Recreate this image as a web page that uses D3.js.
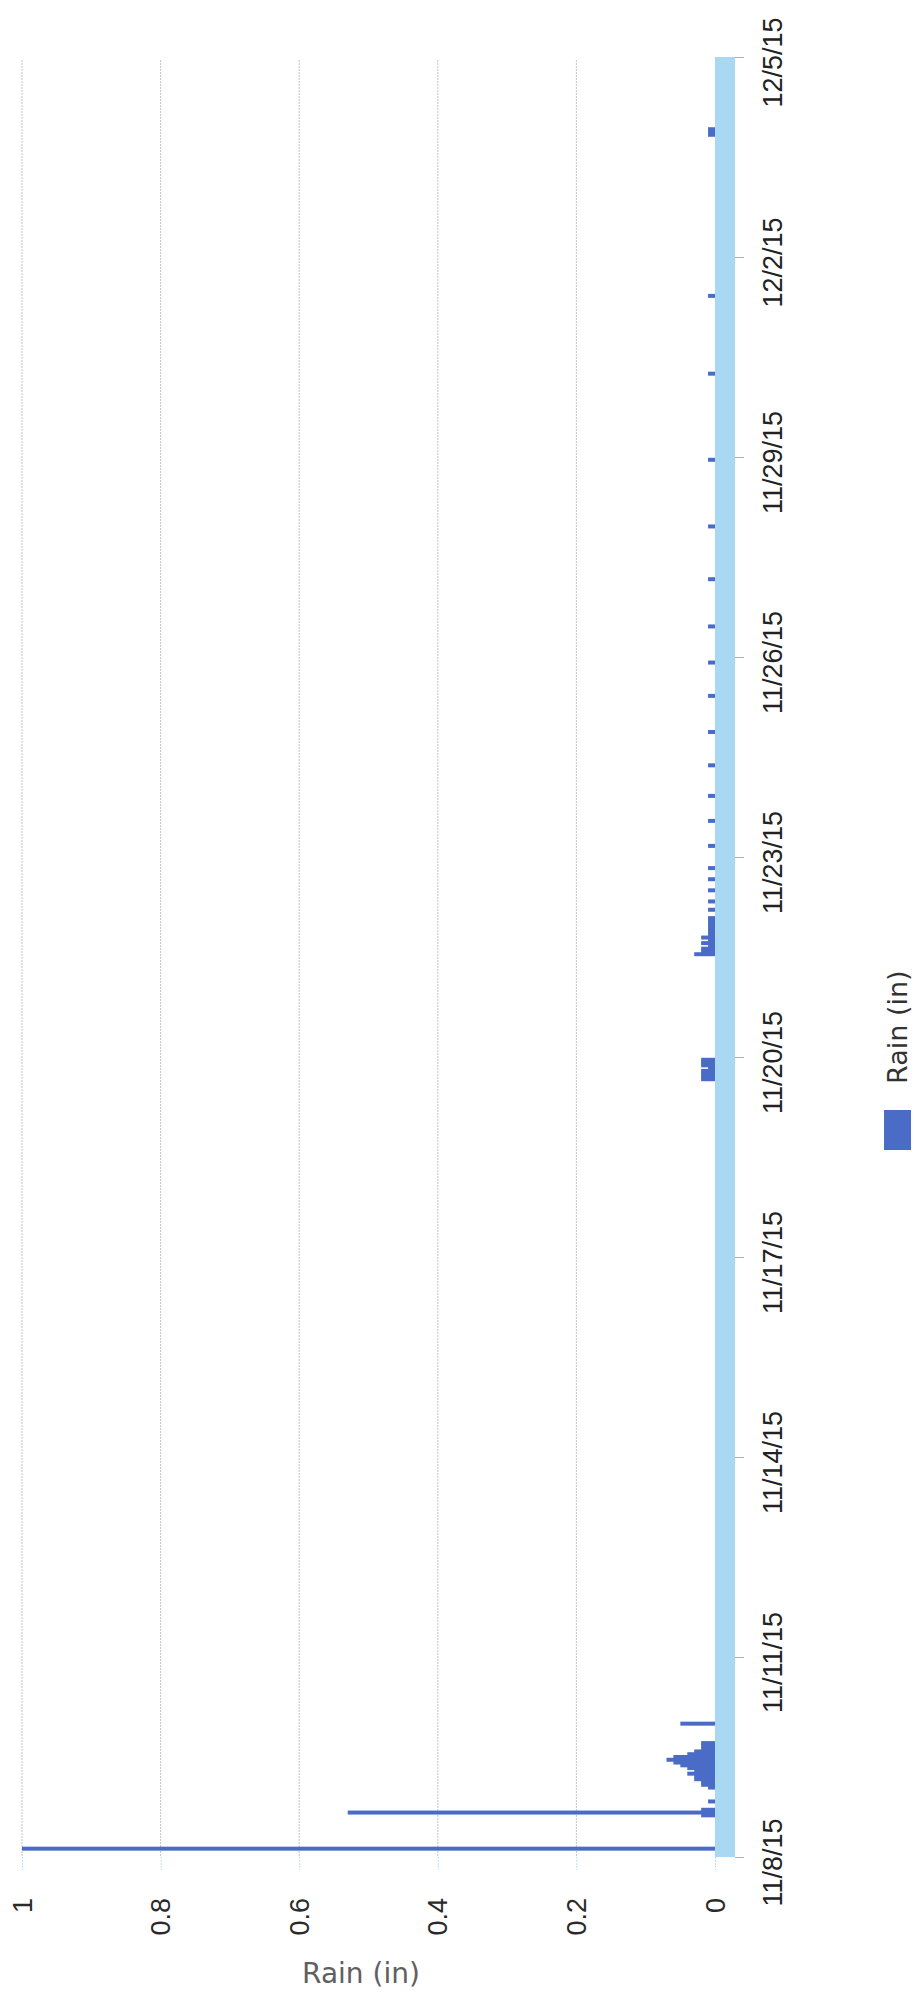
<!DOCTYPE html>
<html>
<head>
<meta charset="utf-8">
<script src="https://cdn.jsdelivr.net/npm/d3@7"></script>
<style>
  body { margin: 0; background: #fff; }
  svg { display: block; font-family: "DejaVu Sans", Verdana, sans-serif; }
</style>
</head>
<body>
<svg id="chart" width="915" height="1997"></svg>
<script>
// hourly rain readings (inches)
var rainTimes = [
  "2015-11-08 03:00", "2015-11-08 15:00", "2015-11-08 16:00", "2015-11-08 17:00", "2015-11-08 20:00",
  "2015-11-09 01:00", "2015-11-09 02:00", "2015-11-09 03:00", "2015-11-09 04:00", "2015-11-09 05:00",
  "2015-11-09 06:00", "2015-11-09 07:00", "2015-11-09 08:00", "2015-11-09 09:00", "2015-11-09 10:00",
  "2015-11-09 11:00", "2015-11-09 12:00", "2015-11-09 13:00", "2015-11-09 14:00", "2015-11-09 15:00",
  "2015-11-09 16:00", "2015-11-09 17:00", "2015-11-10 00:00",
  "2015-11-19 16:00", "2015-11-19 17:00", "2015-11-19 18:00", "2015-11-19 19:00", "2015-11-19 20:00",
  "2015-11-19 21:00", "2015-11-19 22:00", "2015-11-19 23:00",
  "2015-11-21 13:00", "2015-11-21 14:00", "2015-11-21 15:00", "2015-11-21 16:00", "2015-11-21 17:00",
  "2015-11-21 18:00", "2015-11-21 19:00", "2015-11-21 20:00", "2015-11-21 21:00", "2015-11-21 22:00",
  "2015-11-21 23:00", "2015-11-22 00:00", "2015-11-22 01:00", "2015-11-22 02:00",
  "2015-11-22 05:00", "2015-11-22 08:00", "2015-11-22 12:00", "2015-11-22 16:00", "2015-11-22 20:00",
  "2015-11-23 04:00", "2015-11-23 13:00", "2015-11-23 22:00", "2015-11-24 09:00", "2015-11-24 21:00",
  "2015-11-25 10:00", "2015-11-25 22:00", "2015-11-26 11:00", "2015-11-27 04:00", "2015-11-27 23:00",
  "2015-11-28 23:00", "2015-11-30 06:00", "2015-12-01 10:00",
  "2015-12-03 20:00", "2015-12-03 21:00", "2015-12-03 22:00"
];
var rainValues = [
  1.00, 0.02, 0.53, 0.02, 0.01,
  0.01, 0.02, 0.02, 0.03, 0.03,
  0.04, 0.03, 0.04, 0.05, 0.06,
  0.07, 0.06, 0.04, 0.03, 0.02,
  0.02, 0.02, 0.05,
  0.02, 0.02, 0.02, 0.02, 0.01,
  0.02, 0.02, 0.02,
  0.03, 0.02, 0.02, 0.01, 0.02,
  0.01, 0.02, 0.01, 0.01, 0.01,
  0.01, 0.01, 0.01, 0.01,
  0.01, 0.01, 0.01, 0.01, 0.01,
  0.01, 0.01, 0.01, 0.01, 0.01,
  0.01, 0.01, 0.01, 0.01, 0.01,
  0.01, 0.01, 0.01,
  0.01, 0.01, 0.01
];

// axis labels
var dateTicks = ["2015-11-08", "2015-11-11", "2015-11-14", "2015-11-17", "2015-11-20",
  "2015-11-23", "2015-11-26", "2015-11-29", "2015-12-02", "2015-12-05"];
var valueTicks = [0, 0.2, 0.4, 0.6, 0.8, 1];
var seriesName = "Rain (in)";

var parseTime = d3.timeParse("%Y-%m-%d %H:%M");
var parseDay = d3.timeParse("%Y-%m-%d");

var rain = rainTimes.map(function(t, i) {
  return { time: parseTime(t), value: rainValues[i] };
});

var svg = d3.select("#chart");
var barColor = "#4a6cc6";

// chart is drawn turned on its side: time runs upward, rain runs leftward
var y = d3.scaleTime()
  .domain([parseDay(dateTicks[0]), parseDay(dateTicks[dateTicks.length - 1])])
  .range([1857, 57]);
var x = d3.scaleLinear().domain([0, 1]).range([715, 22]);

// grid lines
svg.append("g").selectAll("line")
  .data(valueTicks.filter(function(d) { return d > 0; }))
  .join("line")
    .attr("x1", function(d) { return x(d); })
    .attr("x2", function(d) { return x(d); })
    .attr("y1", 60)
    .attr("y2", 1857)
    .attr("stroke", "#c4c4c4")
    .attr("stroke-width", 1)
    .attr("stroke-dasharray", "2,1");

// value axis along the bottom
var xAxis = svg.append("g")
  .attr("transform", "translate(0,1857)")
  .call(d3.axisBottom(x).tickValues(valueTicks).tickFormat(d3.format("")).tickSize(13));
xAxis.select(".domain").remove();
xAxis.selectAll(".tick line").attr("stroke", "#b9e0f5").attr("stroke-dasharray", "2,1");
xAxis.selectAll(".tick text")
  .attr("y", null).attr("dy", null)
  .attr("transform", "translate(0,41) rotate(-90)")
  .attr("text-anchor", "end")
  .attr("dominant-baseline", "central")
  .attr("font-size", 27)
  .attr("fill", "#2a2a2a");

svg.append("text")
  .attr("x", 361)
  .attr("y", 1983)
  .attr("text-anchor", "middle")
  .attr("font-size", 28)
  .attr("fill", "#606060")
  .text(seriesName);

// light blue band along the zero line
svg.append("rect")
  .attr("x", 715)
  .attr("y", y.range()[1])
  .attr("width", 20)
  .attr("height", y.range()[0] - y.range()[1])
  .attr("fill", "#a9d8f3");

// date axis on the right
var yAxis = svg.append("g")
  .attr("transform", "translate(735,0)")
  .call(d3.axisRight(y).tickValues(dateTicks.map(parseDay))
    .tickFormat(d3.timeFormat("%-m/%-d/%y")).tickSize(9));
yAxis.select(".domain").remove();
yAxis.selectAll(".tick line").attr("stroke", "#b0b0b0");
yAxis.selectAll(".tick text")
  .attr("x", null).attr("dy", null)
  .attr("transform", "translate(38,5) rotate(-90)")
  .attr("text-anchor", "middle")
  .attr("dominant-baseline", "central")
  .attr("font-size", 27)
  .attr("fill", "#222");

// bars
svg.append("g").selectAll("rect")
  .data(rain)
  .join("rect")
    .attr("x", function(d) { return x(d.value); })
    .attr("y", function(d) { return y(d.time) - 2; })
    .attr("width", function(d) { return x(0) - x(d.value); })
    .attr("height", 4)
    .attr("fill", barColor);

// legend
var legend = svg.append("g").attr("transform", "translate(897,0)");
legend.append("rect")
  .attr("x", -13)
  .attr("y", 1110)
  .attr("width", 27)
  .attr("height", 40)
  .attr("fill", barColor);
legend.append("text")
  .attr("transform", "translate(0,1084) rotate(-90)")
  .attr("text-anchor", "start")
  .attr("dominant-baseline", "central")
  .attr("font-size", 27)
  .attr("fill", "#333")
  .text(seriesName);
</script>
</body>
</html>
